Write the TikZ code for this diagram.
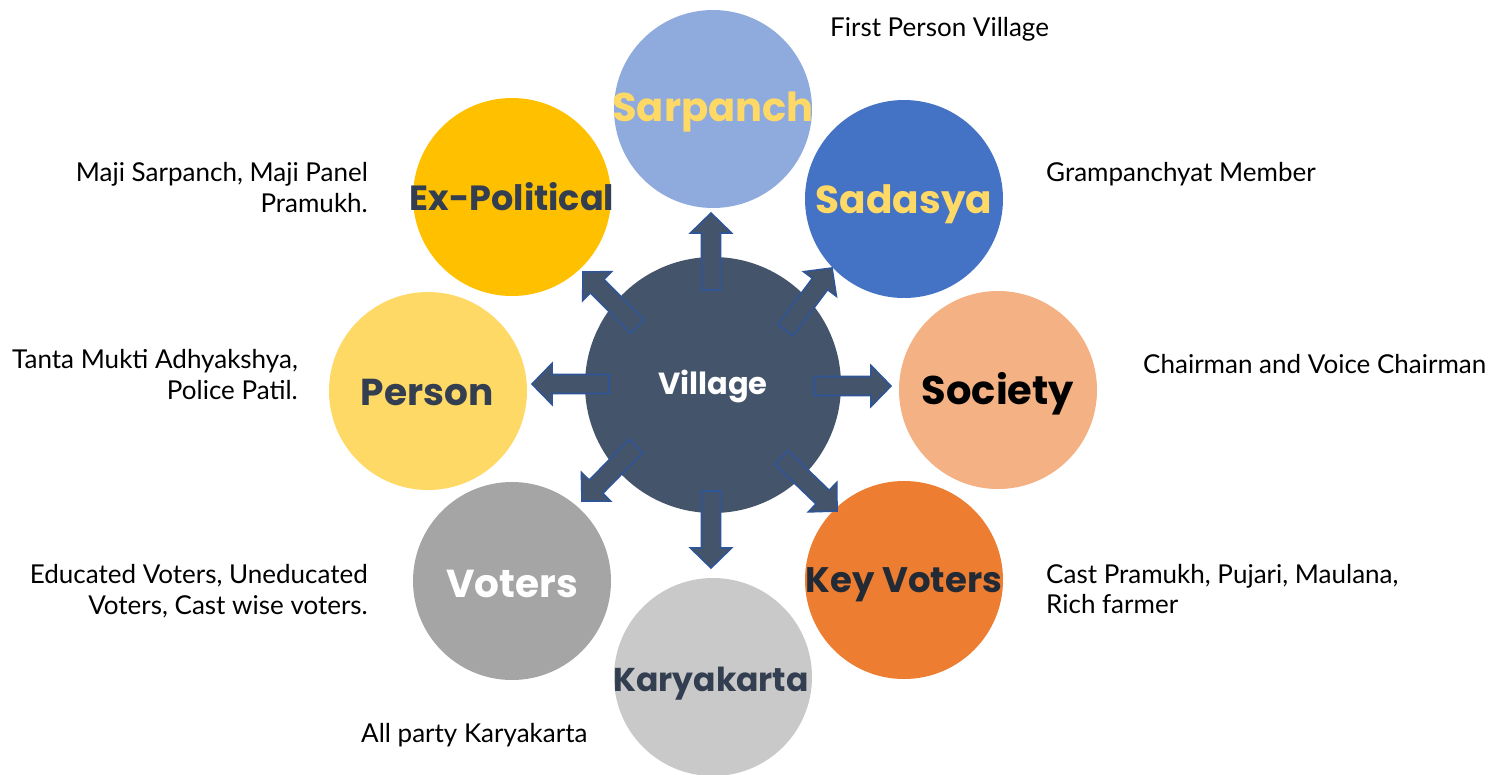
\documentclass[tikz,border=0pt]{standalone}
\usepackage{fontspec}
\setmainfont{Lato}
\newfontfamily\popfont{Poppins}
\usetikzlibrary{calc}
\definecolor{villagec}{HTML}{44546A}
\definecolor{arrowline}{HTML}{2F5597}
\definecolor{sarpc}{HTML}{8FAADC}
\definecolor{sadc}{HTML}{4472C4}
\definecolor{socc}{HTML}{F4B183}
\definecolor{keyc}{HTML}{ED7D31}
\definecolor{karc}{HTML}{C9C9C9}
\definecolor{votc}{HTML}{A5A5A5}
\definecolor{perc}{HTML}{FFD966}
\definecolor{exc}{HTML}{FFC000}
\definecolor{yeltext}{HTML}{FFD966}
\definecolor{navytext}{HTML}{333F50}
\definecolor{darktext}{HTML}{222A35}
\newcommand\blockarr[2]{%
  \coordinate (#1b) at ($(#2)!20pt!(#1)$);
  \filldraw[arrowstyle]
    ($(#1)!9.5pt!90:(#2)$) -- ($(#1b)!9.5pt!90:(#2)$) -- ($(#1b)!20.5pt!90:(#2)$)
    -- (#2) -- ($(#1b)!20.5pt!-90:(#2)$) -- ($(#1b)!9.5pt!-90:(#2)$)
    -- ($(#1)!9.5pt!-90:(#2)$) -- cycle;}
\newcommand\lblfont[1]{\popfont\bfseries\fontsize{#1}{#1}\selectfont}
\begin{document}
\begin{tikzpicture}[x=1pt,y=-1pt,
  outer/.style={circle, minimum size=198pt, inner sep=0pt},
  lbl/.style={inner sep=0pt},
  arrowstyle/.style={fill=villagec, draw=arrowline, line width=1.6pt, line join=miter},
  desc/.style={font=\fontsize{26}{30}\selectfont, inner sep=0pt, text=black}]
\useasboundingbox (0,0) rectangle (1494,774);
\fill[white] (0,0) rectangle (1494,774);

% centre
\node[circle, minimum size=256pt, inner sep=0pt, fill=villagec] (village) at (713,385) {};
\node[lbl, text=white, font=\lblfont{30.5}] (villagelbl) at (713,386) {Village};

% outer circles
\node[outer, fill=sarpc] (sarpanch) at (713,109) {};
\node[outer, fill=sadc] (sadasya) at (904,199) {};
\node[outer, fill=socc] (society) at (998,390) {};
\node[outer, fill=keyc] (keyvoters) at (904,580) {};
\node[outer, fill=karc] (karyakarta) at (713,677) {};
\node[outer, fill=votc] (voters) at (512,581) {};
\node[outer, fill=perc] (person) at (428,391) {};
\node[outer, fill=exc] (expol) at (512,197) {};

\node[lbl, text=yeltext, font=\lblfont{40}] (sarpanchlbl) at (713,112) {Sarpanch};
\node[lbl, text=yeltext, font=\lblfont{39}] (sadasyalbl) at (904,204) {Sadasya};
\node[lbl, text=black, font=\lblfont{40}] (societylbl) at (998,394) {Society};
\node[lbl, text=darktext, font=\lblfont{35.5}] (keyvoterslbl) at (904,585) {Key Voters};
\node[lbl, text=navytext, font=\lblfont{33}] (karyakartalbl) at (711,684) {Karyakarta};
\node[lbl, text=white, font=\lblfont{39}] (voterslbl) at (512,584) {Voters};
\node[lbl, text=navytext, font=\lblfont{37.5}] (personlbl) at (427,392) {Person};
\node[lbl, text=navytext, font=\lblfont{35}] (expollbl) at (512,197) {Ex-Political};

% arrows
\coordinate (tU) at (711,290);   \coordinate (hU) at (711,213);
\coordinate (tD) at (711,491);   \coordinate (hD) at (711,568);
\coordinate (tR) at (814,386);   \coordinate (hR) at (891,386);
\coordinate (tL) at (609,384);   \coordinate (hL) at (532,384);
\coordinate (tUR) at (785.5,330); \coordinate (hUR) at (832,268);
\coordinate (tUL) at (637.5,326.5); \coordinate (hUL) at (583,272);
\coordinate (tDL) at (636,446);  \coordinate (hDL) at (582,501);
\coordinate (tDR) at (781.5,457.5); \coordinate (hDR) at (837,511);
\blockarr{tU}{hU}
\blockarr{tD}{hD}
\blockarr{tR}{hR}
\blockarr{tL}{hL}
\blockarr{tUR}{hUR}
\blockarr{tUL}{hUL}
\blockarr{tDL}{hDL}
\blockarr{tDR}{hDR}

% descriptions
\node[desc, anchor=base west] (d1) at (830,36) {First Person Village};
\node[desc, anchor=base west] (d2) at (1046,181) {Grampanchyat Member};
\node[desc, anchor=base west] (d3) at (1143,373) {Chairman and Voice Chairman};
\node[desc, anchor=base west] (d4a) at (1046,583) {Cast Pramukh, Pujari, Maulana,};
\node[desc, anchor=base west] (d4b) at (1046,613) {Rich farmer};
\node[desc, anchor=base west] (d5) at (361,742) {All party Karyakarta};
\node[desc, anchor=base east] (d6a) at (368,583) {Educated Voters, Uneducated};
\node[desc, anchor=base east] (d6b) at (368,614) {Voters, Cast wise voters.};
\node[desc, anchor=base east] (d7a) at (298,368) {Tanta Mukti Adhyakshya,};
\node[desc, anchor=base east] (d7b) at (298,399) {Police Patil.};
\node[desc, anchor=base east] (d8a) at (368,181) {Maji Sarpanch, Maji Panel};
\node[desc, anchor=base east] (d8b) at (368,212) {Pramukh.};
\end{tikzpicture}
\end{document}
